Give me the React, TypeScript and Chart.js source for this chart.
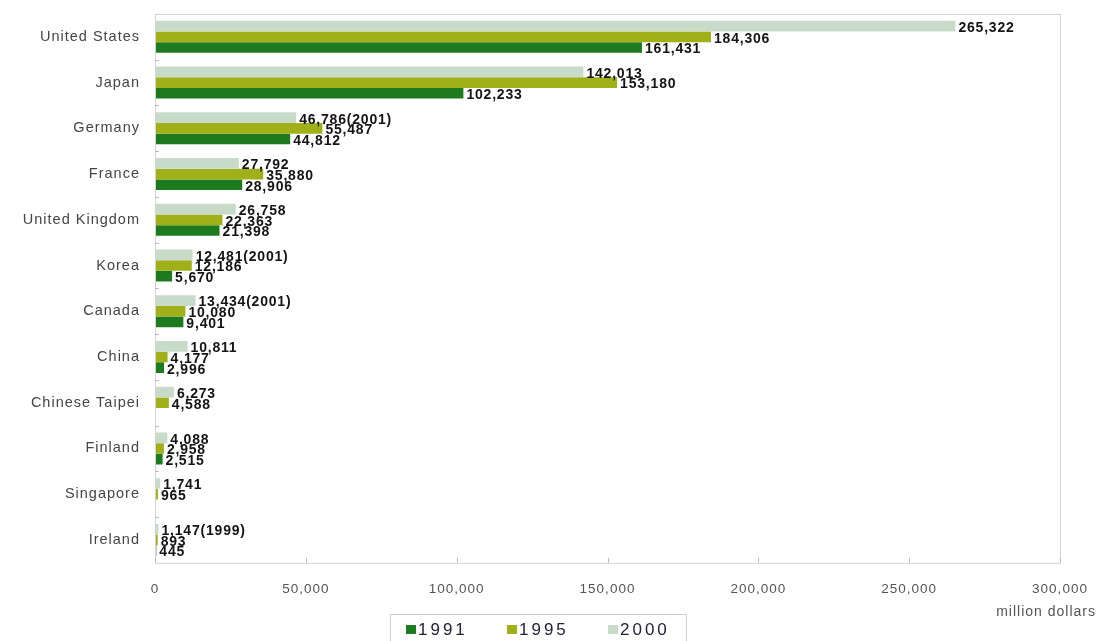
import React, { useEffect, useRef } from 'react';
import { Chart, registerables } from 'chart.js';

Chart.register(...registerables);

const categories = [
  'United States', 'Japan', 'Germany', 'France', 'United Kingdom', 'Korea',
  'Canada', 'China', 'Chinese Taipei', 'Finland', 'Singapore', 'Ireland',
];
const values1991 = [161431, 102233, 44812, 28906, 21398, 5670, 9401, 2996, null, 2515, null, 445];
const values1995 = [184306, 153180, 55487, 35880, 22363, 12186, 10080, 4177, 4588, 2958, 965, 893];
const values2000 = [265322, 142013, 46786, 27792, 26758, 12481, 13434, 10811, 6273, 4088, 1741, 1147];
const notes2000 = ['', '', '(2001)', '', '', '(2001)', '(2001)', '', '', '', '', '(1999)'];
const xTickValues = [0, 50000, 100000, 150000, 200000, 250000, 300000];
const unitLabel = 'million dollars';

const COLOR_1991 = '#1d7a1f';
const COLOR_1995 = '#9fb018';
const COLOR_2000 = '#c8dbc9';

const fmt = (v: number) => v.toLocaleString('en-US');

const FONT = '"Liberation Sans", Arial, sans-serif';

const decorPlugin = {
  id: 'decor',
  beforeDraw(chart: any) {
    chart.ctx.letterSpacing = '1px';
  },
  afterDatasetsDraw(chart: any) {
    const { ctx, chartArea } = chart;
    ctx.save();
    ctx.strokeStyle = '#d4d4d4';
    ctx.lineWidth = 1;
    ctx.strokeRect(chartArea.left + 0.5, chartArea.top + 0.5, chartArea.right - chartArea.left, chartArea.bottom - chartArea.top);
    const xs = chart.scales.x;
    ctx.strokeStyle = '#bbbbbb';
    xTickValues.forEach((v) => {
      const px = Math.round(xs.getPixelForValue(v)) + 0.5;
      ctx.beginPath();
      ctx.moveTo(px, chartArea.bottom);
      ctx.lineTo(px, chartArea.bottom - 5);
      ctx.stroke();
    });
    const ys = chart.scales.y;
    for (let i = 1; i < categories.length; i++) {
      const py = Math.round((ys.getPixelForValue(i - 1) + ys.getPixelForValue(i)) / 2) + 0.5;
      ctx.beginPath();
      ctx.moveTo(chartArea.left, py);
      ctx.lineTo(chartArea.left + 4, py);
      ctx.stroke();
    }
    ctx.font = `bold 14px ${FONT}`;
    ctx.letterSpacing = '0.8px';
    ctx.fillStyle = '#141414';
    ctx.textAlign = 'left';
    ctx.textBaseline = 'middle';
    chart.data.datasets.forEach((ds: any, di: number) => {
      const meta = chart.getDatasetMeta(di);
      meta.data.forEach((el: any, i: number) => {
        const v = ds.data[i];
        if (v === null || v === undefined) return;
        const note = ds.notes ? ds.notes[i] : '';
        ctx.fillText(fmt(v) + note, el.x + 3, el.y + 2);
      });
    });
    ctx.restore();
  },
  afterDraw(chart: any) {
    const { ctx } = chart;
    ctx.save();
    ctx.font = `14px ${FONT}`;
    ctx.letterSpacing = '1px';
    ctx.fillStyle = '#555';
    ctx.textAlign = 'right';
    ctx.textBaseline = 'middle';
    ctx.fillText(unitLabel, 1096, 612);
    const bx = 390, by = 614, bw = 296, bh = 40;
    ctx.strokeStyle = '#cfcfcf';
    ctx.lineWidth = 1;
    ctx.strokeRect(bx + 0.5, by + 0.5, bw, bh);
    const order = [...chart.data.datasets].reverse();
    ctx.font = `17px ${FONT}`;
    ctx.letterSpacing = '3px';
    ctx.textAlign = 'left';
    let x = 406;
    order.forEach((ds: any) => {
      ctx.fillStyle = ds.backgroundColor;
      ctx.fillRect(x, 625, 10, 9);
      ctx.fillStyle = '#22223a';
      ctx.fillText(ds.label, x + 12, 630);
      x += 101;
    });
    ctx.restore();
  },
};

export default function App() {
  const ref = useRef<HTMLCanvasElement>(null);
  useEffect(() => {
    document.body.style.margin = '0';
    const canvas = ref.current!;
    const chart = new Chart(canvas, {
      type: 'bar',
      data: {
        labels: categories,
        datasets: [
          { label: '2000', data: values2000, backgroundColor: COLOR_2000, notes: notes2000 } as any,
          { label: '1995', data: values1995, backgroundColor: COLOR_1995 } as any,
          { label: '1991', data: values1991, backgroundColor: COLOR_1991 } as any,
        ],
      },
      options: {
        indexAxis: 'y',
        animation: false,
        responsive: false,
        maintainAspectRatio: false,
        layout: { padding: { top: 14, right: 44, bottom: 26, left: 10 } },
        plugins: { legend: { display: false }, tooltip: { enabled: false } },
        datasets: { bar: { categoryPercentage: 0.7, barPercentage: 1.0 } },
        scales: {
          x: {
            min: 0,
            max: 300000,
            afterBuildTicks: (scale: any) => {
              scale.ticks = xTickValues.map((v) => ({ value: v }));
            },
            afterFit: (scale: any) => {
              scale.paddingLeft = 0;
              scale.paddingRight = 0;
            },
            ticks: {
              callback: (v: any) => fmt(Number(v)),
              font: { family: FONT, size: 13.5 },
              color: '#555',
              padding: 18,
              maxRotation: 0,
            },
            grid: { display: false, drawTicks: false },
            border: { display: false },
          },
          y: {
            afterFit: (scale: any) => {
              scale.width = 145;
              scale.paddingTop = 0;
              scale.paddingBottom = 0;
            },
            ticks: {
              font: { family: FONT, size: 14.5 },
              color: '#454545',
              padding: 15,
            },
            grid: { display: false, drawTicks: false },
            border: { display: false },
          },
        },
      },
      plugins: [decorPlugin],
    });
    return () => chart.destroy();
  }, []);
  return (
    <div style={{ width: 1104, height: 641, background: '#fff' }}>
      <canvas ref={ref} width={1104} height={641} />
    </div>
  );
}
